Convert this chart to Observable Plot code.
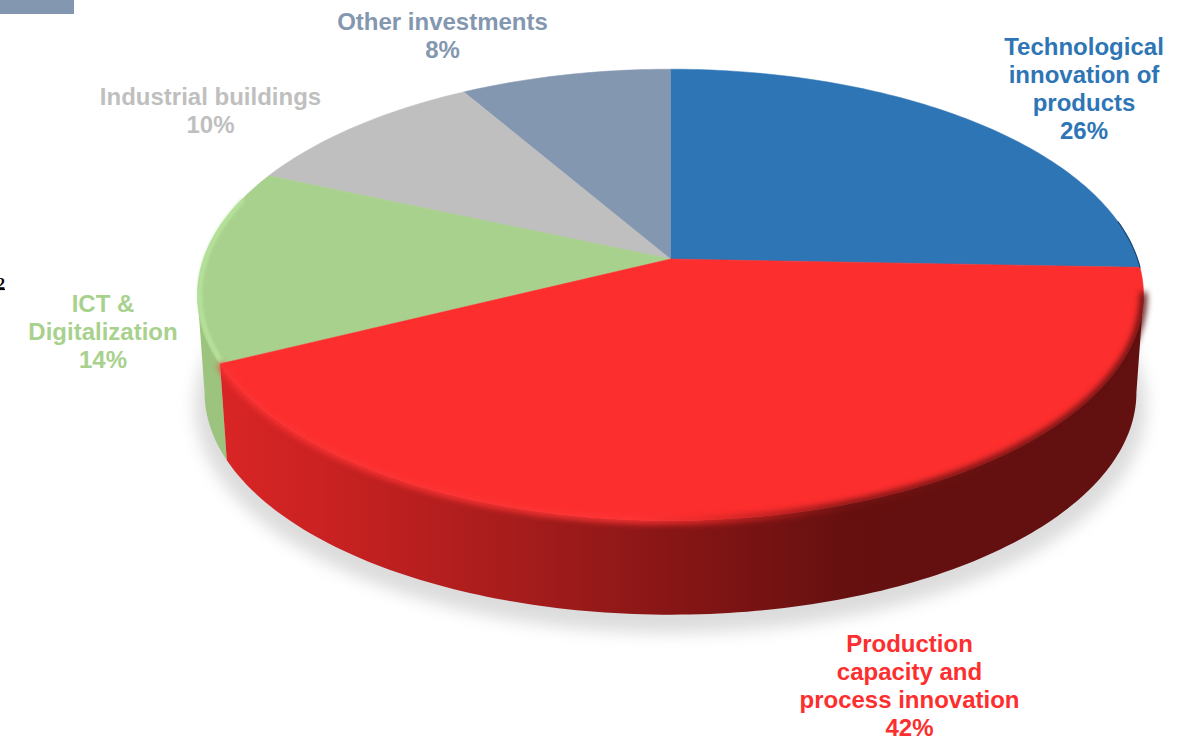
<!DOCTYPE html>
<html>
<head>
<meta charset="utf-8">
<script src="https://cdn.jsdelivr.net/npm/d3@7"></script>
<script src="https://cdn.jsdelivr.net/npm/@observablehq/plot@0.6"></script>
<style>
html,body{margin:0;padding:0;background:#fff;overflow:hidden}
svg{display:block;max-width:none}
</style>
</head>
<body>
<div id="chart"></div>
<script>
// ---- data ----
const categories = ["Technological\ninnovation of\nproducts", "Production\ncapacity and\nprocess innovation", "ICT &\nDigitalization", "Industrial buildings", "Other investments"];
const shares = [25.6, 42.1, 13.9, 10.0, 8.4];
const colors = ["#2e75b6", "#fd2e2e", "#a9d18e", "#bfbfbf", "#8497b0"];

// ---- pie geometry (perspective projection of a disc) ----
const W = 1178, H = 742;
const cx = 670, cy = 258.5, R = 467, S = 220, k = 0.159, depth = 98, shrink = 0.985;
const rad = d => d * Math.PI / 180;
function project(theta, r = 1, lower = false) {
  const u = r * Math.sin(theta), v = -r * Math.cos(theta), w = 1 - k * v;
  const X = R * u / w, Y = S * v / w;
  return lower ? {x: cx + shrink * X, y: cy + depth + shrink * Y} : {x: cx + X, y: cy + Y};
}
function arc(a0, a1, r = 1, lower = false) {
  const n = Math.max(2, Math.ceil(Math.abs(a1 - a0) / rad(1)));
  return d3.range(n + 1).map(i => project(a0 + (a1 - a0) * i / n, r, lower));
}
const pie = d3.pie().sort(null).value(d => d)(shares);
const face = p => [{x: cx, y: cy}, ...arc(p.startAngle, p.endAngle), {x: cx, y: cy}];
const tanR = Math.PI - Math.acos(k), tanL = Math.PI + Math.acos(k);
const side = (a0, a1) => [...arc(a0, a1), ...arc(a1, a0, 1, true)];
const [pBlue, pRed, pGreen, pGray, pOther] = pie;

const defs = () => {
  const d = d3.create("svg:defs");
  const grad = (id, stops) => {
    const g = d.append("linearGradient").attr("id", id).attr("x1", 0).attr("x2", 1).attr("y1", 0).attr("y2", 0);
    stops.forEach(([o, c]) => g.append("stop").attr("offset", o).attr("stop-color", c));
  };
  grad("redSide", [[0, "#d92525"], [0.1, "#cc2222"], [0.2, "#bb1f1f"], [0.33, "#a51c1c"], [0.5, "#861515"], [0.68, "#661010"], [1, "#621010"]]);
  grad("redRim", [[0, "#fb3333"], [0.45, "#fd3535"], [0.52, "#e62a2a"], [0.6, "#b01e1e"], [0.68, "#751313"], [1, "#5e0f0f"]]);
  return d.node();
};

const faces = [pBlue, pOther, pGray, pGreen, pRed];
const faceColor = p => colors[p.index];
const labels = categories.map((c, i) => ({text: `${c}\n${Math.round(shares[i])}%`, color: colors[i]}));
const labelX = [1083.5, 909, 102.5, 210, 442];
const labelY = [87.5, 684.5, 330.5, 109.5, 34.5];

const plot = Plot.plot({
  width: W, height: H, margin: 0,
  x: {domain: [0, W], range: [0, W], axis: null},
  y: {domain: [0, H], range: [0, H], axis: null},
  marks: [
    defs,
    // drop shadow
    Plot.line(arc(0, 2 * Math.PI, 1.02, true).map(d => ({x: d.x, y: d.y + 12})), {x: "x", y: "y", fill: "#d6d6d6", imageFilter: "blur(8px)", fillOpacity: 0.85}),
    // sides
    Plot.line(side(pGreen.startAngle, tanL), {x: "x", y: "y", fill: "#9cc47e"}),
    Plot.line(side(tanR, pRed.endAngle), {x: "x", y: "y", fill: "url(#redSide)"}),
    // faces
    ...faces.map(p => Plot.line(face(p), {x: "x", y: "y", fill: faceColor(p), stroke: faceColor(p), strokeWidth: 0.5})),
    // bevels
    Plot.line(arc(pGreen.startAngle + rad(1), rad(286), 0.995), {x: "x", y: "y", stroke: "#b6e49b", strokeWidth: 4, imageFilter: "blur(1.5px)"}),
    Plot.line(arc(tanR, pRed.endAngle - rad(0.8), 1.0), {x: "x", y: "y", stroke: "url(#redRim)", strokeWidth: 7, imageFilter: "blur(3px)"}),
    Plot.line(arc(rad(80), pBlue.endAngle, 1), {x: "x", y: "y", stroke: "#1d4a75", strokeWidth: 1.2, imageFilter: "blur(0.7px)"}),
    // labels
    Plot.text(labels, {
      x: (d, i) => labelX[i], y: (d, i) => labelY[i], text: "text", fill: "color",
      fontFamily: "Liberation Sans", fontWeight: "bold", fontSize: 24, lineHeight: 1.167, textAnchor: "middle", lineAnchor: "middle"
    }),
    // page fragments at the crop's edge
    Plot.rect([0], {x1: 0, x2: 74, y1: 0, y2: 14, fill: "#8497b0"}),
    Plot.text(["2"], {x: -3.5, y: 283, text: d => d, textAnchor: "start", fontFamily: "Liberation Serif", fontWeight: "bold", fontSize: 16, fill: "#000"}),
    Plot.ruleY([289], {x1: 0, x2: 5, stroke: "#000", strokeWidth: 1.2})
  ]
});
document.getElementById("chart").append(plot);
</script>
</body>
</html>
